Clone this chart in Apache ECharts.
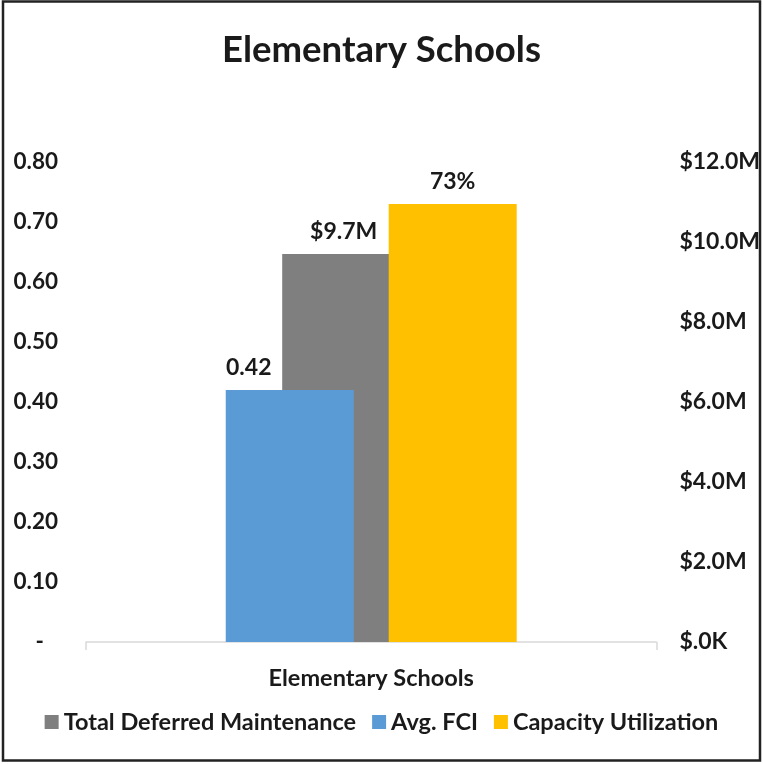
<!DOCTYPE html>
<html>
<head>
<meta charset="utf-8">
<script src="https://cdn.jsdelivr.net/npm/echarts@6/dist/echarts.min.js"></script>
<style>
html,body{margin:0;padding:0;background:#fff;}
#chart{width:763px;height:764px;}
</style>
</head>
<body>
<div id="chart"></div>
<script>
var categories = ['Elementary Schools'];
var totalDeferredMaintenance = [9700000];
var avgFCI = [0.42];
var capacityUtilization = [0.73];
var deferredLabels = ['$9.7M'];
var fciLabels = ['0.42'];
var capacityLabels = ['73%'];

var FONT = 'Lato';
var TXT = '#1a1a1a';

var chart = echarts.init(document.getElementById('chart'));
chart.setOption({
  animation: false,
  backgroundColor: '#ffffff',
  title: {
    text: 'Elementary Schools',
    left: 'center',
    top: 27,
    textStyle: {fontFamily: FONT, fontWeight: 'bold', fontSize: 36.5, color: TXT}
  },
  legend: {
    bottom: 25,
    left: 'center',
    icon: 'rect',
    itemWidth: 14,
    itemHeight: 14,
    itemGap: 16,
    data: ['Total Deferred Maintenance', 'Avg. FCI', 'Capacity Utilization'],
    textStyle: {fontFamily: FONT, fontWeight: 'bold', fontSize: 23.5, color: TXT, padding: [0, 0, 0, 0]}
  },
  grid: {left: 86, right: 106, top: 162, bottom: 122, containLabel: false},
  xAxis: [
    {
      type: 'category',
      data: categories,
      axisLine: {lineStyle: {color: '#d9d9d9', width: 1.5}},
      axisTick: {show: true, length: 8, lineStyle: {color: '#d9d9d9', width: 1.5}},
      axisLabel: {margin: 24, fontFamily: FONT, fontWeight: 'bold', fontSize: 23.5, color: TXT}
    },
    {
      type: 'category',
      data: categories,
      show: false
    }
  ],
  yAxis: [
    {
      type: 'value',
      position: 'left',
      min: 0, max: 0.8, interval: 0.1,
      splitLine: {show: false},
      axisLine: {show: false},
      axisTick: {show: false},
      axisLabel: {
        margin: 28,
        fontFamily: FONT, fontWeight: 'bold', fontSize: 22.5, color: TXT,
        formatter: function (v) { return v === 0 ? '{d|-}' : v.toFixed(2); },
        rich: {d: {fontFamily: FONT, fontWeight: 'bold', fontSize: 22.5, color: TXT, padding: [0, 14, 0, 0]}}
      }
    },
    {
      type: 'value',
      position: 'right',
      min: 0, max: 12000000, interval: 2000000,
      splitLine: {show: false},
      axisLine: {show: false},
      axisTick: {show: false},
      axisLabel: {
        margin: 23,
        fontFamily: FONT, fontWeight: 'bold', fontSize: 23, color: TXT,
        formatter: function (v) { return v === 0 ? '$.0K' : '$' + (v / 1000000).toFixed(1) + 'M'; }
      }
    }
  ],
  series: [
    {
      name: 'Total Deferred Maintenance',
      type: 'bar',
      xAxisIndex: 1, yAxisIndex: 1,
      data: totalDeferredMaintenance,
      barWidth: 107,
      barGap: '-33.6%',
      z: 1,
      itemStyle: {color: '#7f7f7f'},
      label: {
        show: true, position: 'top', distance: 11, offset: [8, 0],
        fontFamily: FONT, fontWeight: 'bold', fontSize: 23, color: TXT,
        formatter: function (p) { return deferredLabels[p.dataIndex]; }
      }
    },
    {
      name: 'spacer',
      type: 'bar',
      xAxisIndex: 1, yAxisIndex: 1,
      data: ['-'],
      barWidth: 107,
      barGap: '-33.6%',
      itemStyle: {color: 'rgba(0,0,0,0)'}
    },
    {
      name: 'Avg. FCI',
      type: 'bar',
      xAxisIndex: 0, yAxisIndex: 0,
      data: avgFCI,
      barWidth: 128,
      barGap: '27.3%',
      z: 2,
      itemStyle: {color: '#5b9bd5'},
      label: {
        show: true, position: 'top', distance: 11, offset: [-41, 0],
        fontFamily: FONT, fontWeight: 'bold', fontSize: 23, color: TXT,
        formatter: function (p) { return fciLabels[p.dataIndex]; }
      }
    },
    {
      name: 'Capacity Utilization',
      type: 'bar',
      xAxisIndex: 0, yAxisIndex: 0,
      data: capacityUtilization,
      barWidth: 128,
      barGap: '27.3%',
      z: 2,
      itemStyle: {color: '#ffc000'},
      label: {
        show: true, position: 'top', distance: 11,
        fontFamily: FONT, fontWeight: 'bold', fontSize: 23, color: TXT,
        formatter: function (p) { return capacityLabels[p.dataIndex]; }
      }
    }
  ],
  graphic: [
    {
      type: 'rect',
      shape: {x: 3, y: 1.5, width: 757, height: 759},
      style: {fill: 'none', stroke: '#222', lineWidth: 2.5},
      z: 100,
      silent: true
    }
  ]
});
</script>
</body>
</html>
